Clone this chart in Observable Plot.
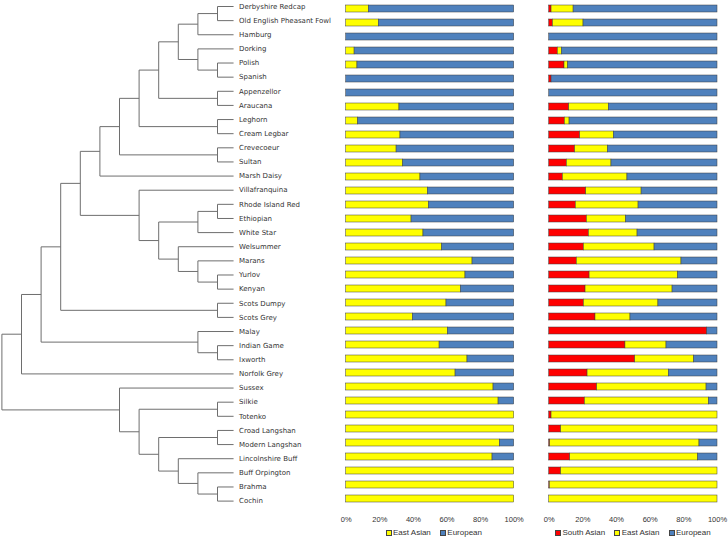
<!DOCTYPE html>
<html><head><meta charset="utf-8">
<script src="https://cdn.jsdelivr.net/npm/d3@7"></script>
<script src="https://cdn.jsdelivr.net/npm/@observablehq/plot@0.6"></script>
<style>
body{margin:0;background:#fff;}
#chart{position:relative;width:728px;height:541px;overflow:hidden;background:#fff;}
#chart > svg{position:absolute;top:0;}
.legend{position:absolute;top:528px;display:flex;align-items:center;font:8px "Liberation Sans",Arial,sans-serif;color:#333;line-height:10px;white-space:nowrap}
.legend .sw{display:inline-block;width:4px;height:4px;border:0.7px solid #444;margin-right:1.5px}
.legend .it{display:flex;align-items:center;margin-right:9px}
</style></head><body><div id="chart"></div>
<script>
const breeds = ["Derbyshire Redcap","Old English Pheasant Fowl","Hamburg","Dorking","Polish","Spanish","Appenzellor","Araucana","Leghorn","Cream Legbar","Crevecoeur","Sultan","Marsh Daisy","Villafranquina","Rhode Island Red","Ethiopian","White Star","Welsummer","Marans","Yurlov","Kenyan","Scots Dumpy","Scots Grey","Malay","Indian Game","Ixworth","Norfolk Grey","Sussex","Silkie","Totenko","Croad Langshan","Modern Langshan","Lincolnshire Buff","Buff Orpington","Brahma","Cochin"];

// Panel 1 (two ancestral components), percent
const eastAsianA = [13.5,19.4,0,5,6.7,0,0,31.7,7.1,32.3,30,33.9,44.2,48.6,49.2,38.9,46,57.1,75.2,71,68.3,59.7,39.7,60.5,55.6,72.2,65.1,87.7,90.7,100,100,91.5,87.1,100,100,100];
const europeanA  = [86.5,80.6,100,95,93.3,100,100,68.3,92.9,67.7,70,66.1,55.8,51.4,50.8,61.1,54,42.9,24.8,29,31.7,40.3,60.3,39.5,44.4,27.8,34.9,12.3,9.3,0,0,8.5,12.9,0,0,0];

// Panel 2 (three ancestral components), percent
const southAsianB = [1.4,2.2,0,5.1,9.1,1.4,0,11.9,9.3,18.4,15.4,10.5,8.1,22,15.8,22.4,23.6,20.6,16.4,24,21.6,20.6,27.5,93.9,45.3,51.1,22.8,28.5,21.2,1.4,7.1,0.6,12.5,7.1,0.4,0];
const eastAsianB  = [13.1,18.2,0,2.4,2.2,0,0,23.5,2.8,20,19.5,26.5,38.4,32.9,37.3,23.3,28.9,42,62.2,52.6,51.7,44.3,20.8,0,24.4,35,48.3,65,73.7,98.6,92.9,88.7,76,92.9,99.6,100];
const europeanB   = [85.5,79.6,100,92.5,88.7,98.6,100,64.6,87.9,61.6,65.1,63,53.5,45.1,46.9,54.3,47.5,37.4,21.4,23.4,26.7,35.1,51.7,6.1,30.3,13.9,28.9,6.5,5.1,0,0,10.7,11.5,0,0,0];

const tickValues = [0,20,40,60,80,100];
const tickLabels = ["0%","20%","40%","60%","80%","100%"];

// Dendrogram: [mergeLevel, childA, childB]
const tree =
 [12,
  [11,
   [10,
    [9,
     [8,
      [7,
       [6,
        [5,
         [4,
          [3,
           [2, [1, "Derbyshire Redcap", "Old English Pheasant Fowl"], "Hamburg"],
           [2, "Dorking", [1, "Polish", "Spanish"]]],
          [1, "Appenzellor", "Araucana"]],
         [1, "Leghorn", "Cream Legbar"]],
        [1, "Crevecoeur", "Sultan"]],
       "Marsh Daisy"],
      [5, "Villafranquina",
       [4,
        [2, [1, "Rhode Island Red", "Ethiopian"], "White Star"],
        [3, "Welsummer", [2, "Marans", [1, "Yurlov", "Kenyan"]]]]]],
     [1, "Scots Dumpy", "Scots Grey"]],
    [2, "Malay", [1, "Indian Game", "Ixworth"]]],
   "Norfolk Grey"],
  [6, "Sussex",
   [5, [1, "Silkie", "Totenko"],
    [4, [1, "Croad Langshan", "Modern Langshan"],
     [3, "Lincolnshire Buff", [2, "Buff Orpington", [1, "Brahma", "Cochin"]]]]]]];
const leafLevel = 0.18;

const segs = [], leaves = [];
function walk(n) {
  if (typeof n === "string") {
    const i = breeds.indexOf(n);
    leaves.push({name: n, h: leafLevel, i});
    return {h: leafLevel, y: i};
  }
  const [h, a, b] = n;
  const ca = walk(a), cb = walk(b);
  segs.push({x1: h, y1: ca.y, x2: h, y2: cb.y});
  segs.push({x1: h, y1: ca.y, x2: ca.h, y2: ca.y});
  segs.push({x1: h, y1: cb.y, x2: cb.h, y2: cb.y});
  return {h, y: (ca.y + cb.y) / 2};
}
walk(tree);

const chart = document.getElementById("chart");

const dendro = Plot.plot({
  width: 340, height: 541, margin: 0,
  style: {background: "transparent", overflow: "visible"},
  x: {domain: [0, 12], range: [236.6, 1.4], axis: null},
  y: {domain: [0, 35], range: [6, 500.6], axis: null},
  marks: [
    Plot.link(segs, {x1: "x1", y1: "y1", x2: "x2", y2: "y2", stroke: "#6e6e6e", strokeWidth: 1}),
    Plot.text(leaves, {x: "h", y: "i", text: "name", textAnchor: "start", dx: 5.5, fill: "#333", fontSize: 7, fontFamily: "DejaVu Sans"})
  ]
});
dendro.style.left = "0px";
chart.appendChild(dendro);

function panel(series, left, width, xRange) {
  const data = [];
  breeds.forEach((b, i) => series.forEach(s => data.push({breed: b, comp: s.name, value: s.values[i]})));
  const p = Plot.plot({
    width, height: 541, marginTop: 0, marginLeft: 0, marginRight: 0, marginBottom: 28,
    style: {background: "transparent", overflow: "visible", fontFamily: "Liberation Sans, Arial, sans-serif", fontSize: "7.5px"},
    x: {domain: [0, 100], range: xRange, axis: null},
    y: {domain: breeds, range: [-2.42, 510.2], paddingInner: 0.47, paddingOuter: 0.235, axis: null},
    color: {domain: series.map(s => s.name), range: series.map(s => s.color)},
    marks: [
      Plot.barX(data, {x: "value", y: "breed", fill: "comp", stroke: "#3c3c3c", strokeWidth: 0.5}),
      Plot.axisX({ticks: tickValues, tickFormat: d => tickLabels[tickValues.indexOf(d)], tickSize: 0, tickPadding: 3, fill: "#333", label: null})
    ]
  });
  p.style.left = left + "px";
  chart.appendChild(p);
}

panel([
  {name: "East Asian", color: "#ffff00", values: eastAsianA},
  {name: "European", color: "#4f81bd", values: europeanA}
], 330, 200, [15.7, 183.7]);

panel([
  {name: "South Asian", color: "#ff0000", values: southAsianB},
  {name: "East Asian", color: "#ffff00", values: eastAsianB},
  {name: "European", color: "#4f81bd", values: europeanB}
], 530, 198, [18.7, 187]);

function legend(items, left) {
  const d = document.createElement("div");
  d.className = "legend";
  d.style.left = left + "px";
  items.forEach(([name, color]) => {
    const it = document.createElement("span"); it.className = "it";
    const sw = document.createElement("span"); sw.className = "sw"; sw.style.background = color;
    it.appendChild(sw); it.appendChild(document.createTextNode(name));
    d.appendChild(it);
  });
  chart.appendChild(d);
}
legend([["East Asian", "#ffff00"], ["European", "#4f81bd"]], 385.5);
legend([["South Asian", "#ff0000"], ["East Asian", "#ffff00"], ["European", "#4f81bd"]], 555);
</script></body></html>
